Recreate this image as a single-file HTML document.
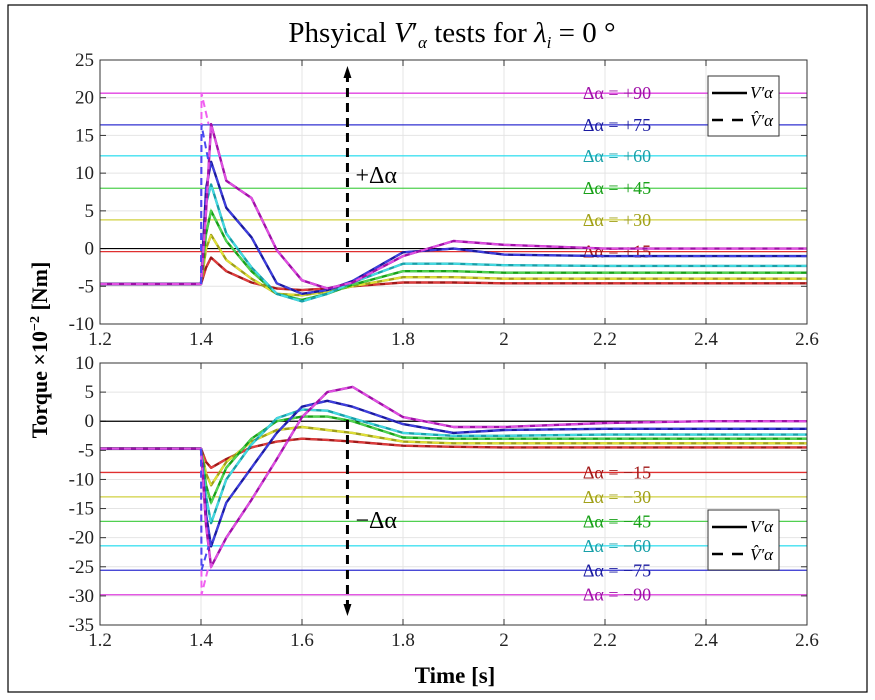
<!DOCTYPE html>
<html><head><meta charset="utf-8"><style>
body{margin:0;background:#fff;width:875px;height:700px;overflow:hidden}
svg{display:block;font-family:"Liberation Serif",serif}
</style></head><body>
<svg id="chart" width="875" height="700">
<rect x="8" y="5" width="859" height="687" fill="#fff" stroke="#000" stroke-width="1.2"/>
<text x="452" y="42" font-size="29" text-anchor="middle">Phsyical <tspan font-style="italic">V</tspan>′<tspan font-size="17" font-style="italic" dy="6">α</tspan><tspan dy="-6"> tests for </tspan><tspan font-style="italic">λ</tspan><tspan font-size="17" font-style="italic" dy="6">i</tspan><tspan dy="-6"> = 0 °</tspan></text>
<text transform="translate(47,350) rotate(-90)" font-size="22" font-weight="bold" text-anchor="middle">Torque ×10<tspan font-size="14" dy="-8">−2</tspan><tspan dy="8"> [Nm]</tspan></text>
<text x="455" y="683" font-size="23" font-weight="bold" text-anchor="middle">Time [s]</text>
<g id="top"></g><g id="bot"></g>
</svg>
<script>
const times=[1.2,1.4,1.41,1.42,1.45,1.5,1.55,1.6,1.65,1.7,1.8,1.9,2.0,2.2,2.4,2.6];
const xTicks=[1.2,1.4,1.6,1.8,2,2.2,2.4,2.6];
const topTicks=[25,20,15,10,5,0,-5,-10];
const botTicks=[10,5,0,-5,-10,-15,-20,-25,-30,-35];
const p90=[-4.7,-4.7,5,16.5,9,6.7,-0.2,-4.2,-5.3,-4.5,-1,1,0.5,0,0,0];
const p75=[-4.7,-4.7,8,11.5,5.4,1.5,-4.6,-6,-5.5,-4.3,-0.5,0,-0.8,-1,-1,-1];
const p60=[-4.7,-4.7,6,8.5,2,-2.5,-6,-7,-6,-4.5,-2,-2,-2.2,-2.3,-2.3,-2.3];
const p45=[-4.7,-4.7,2,5,1,-3,-6,-6.8,-6,-4.8,-3,-3,-3.2,-3.2,-3.2,-3.2];
const p30=[-4.7,-4.7,0,1.8,-1.5,-4,-6,-6.2,-5.7,-5,-3.8,-3.8,-4,-4,-4,-4];
const p15=[-4.7,-4.7,-2.5,-1.2,-3,-4.5,-5.3,-5.5,-5.3,-5,-4.5,-4.5,-4.6,-4.6,-4.6,-4.6];
const m90=[-4.7,-4.7,-18,-25,-20,-13.5,-6.5,0.7,5,5.9,0.7,-1,-1,-0.3,0,0];
const m75=[-4.7,-4.7,-16,-21.5,-14,-8,-2,2.5,3.5,2.5,-0.5,-2,-1.5,-1.3,-1.3,-1.3];
const m60=[-4.7,-4.7,-13,-17.5,-10,-4,0.5,2,1.8,0.5,-2,-2.5,-2.5,-2.3,-2.3,-2.3];
const m45=[-4.7,-4.7,-11,-14,-8,-3,0,0.8,0.8,0,-2.8,-3,-3,-3,-3,-3];
const m30=[-4.7,-4.7,-9,-11,-7,-3.5,-1.5,-1,-1.5,-2,-3.5,-3.8,-3.8,-3.8,-3.8,-3.8];
const m15=[-4.7,-4.7,-7,-8,-6.5,-4.5,-3.5,-3,-3.2,-3.5,-4.2,-4.4,-4.5,-4.5,-4.5,-4.5];
const topRefs=[20.6,16.4,12.3,8,3.8,-0.4];
const botRefs=[-8.8,-13,-17.2,-21.4,-25.6,-29.8];
const topLabels=["Δα = +90","Δα = +75","Δα = +60","Δα = +45","Δα = +30","Δα = +15"];
const botLabels=["Δα = −15","Δα = −30","Δα = −45","Δα = −60","Δα = −75","Δα = −90"];
const dark=["#a010a8","#1a1aa0","#18a0a8","#18a018","#a0a018","#a01818"];
const light=["#f060f0","#4a4af0","#50e8f0","#60e060","#f0f040","#f04848"];
const refCol=["#e040e0","#3030d0","#40e0f0","#50d050","#d0d040","#e03030"];
const NS="http://www.w3.org/2000/svg";
function mk(parent,tag,attrs){const e=document.createElementNS(NS,tag);for(const k in attrs)e.setAttribute(k,attrs[k]);parent.appendChild(e);return e;}
const X0=100,X1=807;
const sx=t=>X0+(t-1.2)/(1.4)*(X1-X0);
function panel(g,y0,y1,vmax,vmin,ticks,series,refs,labels,refOrder,labelX,spikeVals,arrow,arrowText,legY){
  const sy=v=>y0+(vmax-v)/(vmax-vmin)*(y1-y0);
  for(const t of xTicks){const l=mk(g,'line',{x1:sx(t),x2:sx(t),y1:y0,y2:y1,stroke:'#e4e4e4'});
    
    
    const tx=mk(g,'text',{x:sx(t),y:y1+21,'font-size':19,'text-anchor':'middle',fill:'#222'});tx.textContent=String(t);
    
    
    mk(g,'line',{x1:sx(t),x2:sx(t),y1:y0,y2:y0+6,stroke:'#333'});mk(g,'line',{x1:sx(t),x2:sx(t),y1:y1,y2:y1-6,stroke:'#333'});}
  for(const v of ticks){const l=mk(g,'line',{x1:X0,x2:X1,y1:sy(v),y2:sy(v),stroke:'#e4e4e4'});
    
    
    const tx=mk(g,'text',{x:X0-6,y:sy(v)+6,'font-size':19,'text-anchor':'end',fill:'#222'});tx.textContent=String(v);
    
    
    mk(g,'line',{x1:X0,x2:X0+6,y1:sy(v),y2:sy(v),stroke:'#333'});mk(g,'line',{x1:X1,x2:X1-6,y1:sy(v),y2:sy(v),stroke:'#333'});}
  const z=mk(g,'line',{x1:X0,x2:X1,y1:sy(0),y2:sy(0),stroke:'#000','stroke-width':1.2});
  
  
  refs.forEach((r,i)=>{const c=refOrder[i];
    const l=mk(g,'line',{x1:X0,x2:X1,y1:sy(r),y2:sy(r),stroke:refCol[c],'stroke-width':1.3});
    
    
    const tx=mk(g,'text',{x:labelX,y:sy(r)+6,'font-size':18,'text-anchor':'middle',fill:dark[c]});tx.textContent=labels[i];
    
    });
  const order=[5,4,3,2,1,0];
  for(const i of order){const pts=times.map((t,k)=>sx(t).toFixed(1)+','+sy(series[i][k]).toFixed(1)).join(' ');
    const p=mk(g,'polyline',{points:pts,fill:'none',stroke:dark[i],'stroke-width':2.4,'stroke-linejoin':'round'});
    
    
    const d=mk(g,'polyline',{points:pts,fill:'none',stroke:light[i],'stroke-width':2,'stroke-dasharray':'7,5',opacity:0.8});
    
    }
  spikeVals.forEach((v,i)=>{const s=mk(g,'polyline',{points:`${sx(1.4)},${sy(-4.7)} ${sx(1.401)},${sy(v)} ${sx(1.415)},${sy(series[i][3])}`,fill:'none',stroke:light[i],'stroke-width':2,'stroke-dasharray':'7,4'});
    
    });
  const ax=mk(g,'line',{x1:sx(1.69),x2:sx(1.69),y1:arrow[0],y2:arrow[1],stroke:'#000','stroke-width':3,'stroke-dasharray':'9,6'});
  
  
  const ah=arrow[1]<arrow[0]?-1:1;const hx=sx(1.69),hy=arrow[1];
  mk(g,'polygon',{points:`${hx},${hy+ah*6} ${hx-4},${hy-ah*6} ${hx+4},${hy-ah*6}`,fill:'#000'});
  const at=mk(g,'text',{x:hx+8,y:arrowText,'font-size':24});at.textContent=arrow[1]<arrow[0]?'+Δα':'−Δα';
  
  
  const lg=mk(g,'g',{});
  
  
  mk(lg,'rect',{x:708,y:legY,width:71,height:60,fill:'#fff',stroke:'#333'});
  mk(lg,'line',{x1:712,x2:747,y1:legY+17,y2:legY+17,stroke:'#000','stroke-width':2.5});
  mk(lg,'line',{x1:712,x2:747,y1:legY+44,y2:legY+44,stroke:'#000','stroke-width':2.5,'stroke-dasharray':'11,9'});
  const t1=mk(lg,'text',{x:750,y:legY+22,'font-size':17,'font-style':'italic'});t1.textContent='V′α';
  const t2=mk(lg,'text',{x:750,y:legY+50,'font-size':17,'font-style':'italic'});t2.textContent='V̂′α';
  mk(g,'rect',{x:X0,y:y0,width:X1-X0,height:y1-y0,fill:'none',stroke:'#333','stroke-width':1});
}
panel(document.getElementById('top'),60,324,25,-10,topTicks,[p90,p75,p60,p45,p30,p15],topRefs,topLabels,[0,1,2,3,4,5],617,[20.6,16.4],[262,72],183,76);
panel(document.getElementById('bot'),363,625,10,-35,botTicks,[m90,m75,m60,m45,m30,m15],botRefs,botLabels,[5,4,3,2,1,0],617,[-29.8,-25.6],[420,610],528,510);
document.getElementById('top');
document.getElementById('top');
document.getElementById('bot');
document.getElementById('bot');
</script>
</body></html>
